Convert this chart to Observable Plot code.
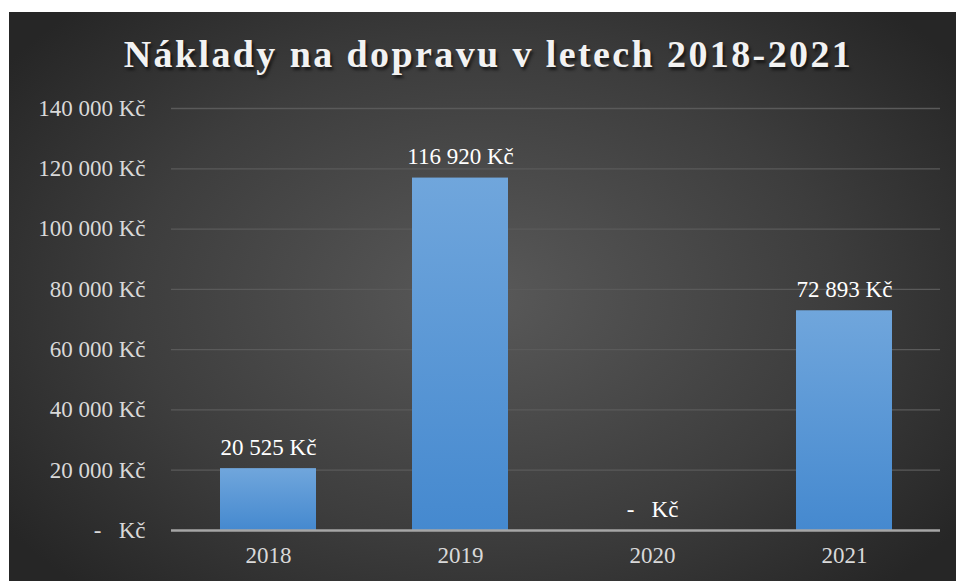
<!DOCTYPE html>
<html>
<head>
<meta charset="utf-8">
<script src="https://cdn.jsdelivr.net/npm/d3@7"></script>
<script src="https://cdn.jsdelivr.net/npm/@observablehq/plot@0.6"></script>
<style>
  html, body { margin: 0; padding: 0; background: #ffffff; }
  #frame {
    position: absolute; left: 9px; top: 12px; width: 947px; height: 569px;
    background: radial-gradient(ellipse 62% 70% at 50% 50%, #595959 0%, #3d3d3d 60%, #262626 100%);
    overflow: hidden;
  }
  #title {
    position: absolute; left: 6px; top: 3px; width: 947px; height: 78px;
    text-align: center; font-family: "Liberation Serif", "Times New Roman", serif;
    font-weight: bold; font-size: 38px; letter-spacing: 2.4px; color: #f2f2f2;
    line-height: 78px; text-shadow: 2px 3px 3px rgba(0,0,0,0.6);
  }
  #chart { position: absolute; left: 0; top: 78px; }
  #chart svg, #chart svg text { font-family: "Liberation Serif", "Times New Roman", serif !important; }
</style>
</head>
<body>
<div id="frame">
  <div id="title">Náklady na dopravu v letech 2018-2021</div>
  <div id="chart"></div>
</div>
<script>
const years = ["2018", "2019", "2020", "2021"];
const costs = [20525, 116920, 0, 72893];
const yTicks = [0, 20000, 40000, 60000, 80000, 100000, 120000, 140000];

const fmt = v => v === 0 ? "-\u00a0\u00a0\u00a0Kč" : d3.format(",")(v).replace(/,/g, "\u00a0") + "\u00a0Kč";
const data = years.map((y, i) => ({year: y, cost: costs[i]}));

const chart = Plot.plot({
  width: 947,
  height: 491,
  marginLeft: 162,
  marginRight: 16,
  marginTop: 18,
  marginBottom: 51,
  style: {background: "transparent", fontFamily: "Liberation Serif, serif", fontSize: "23px", color: "#d9d9d9"},
  x: {domain: years, paddingInner: 0.5, paddingOuter: 0.25, label: null},
  y: {domain: [0, 140000], label: null},
  marks: [
    Plot.ruleY(yTicks.filter(d => d > 0), {stroke: "#5a5a5a", strokeWidth: 1.3}),
    Plot.barY(data, {x: "year", y: "cost", fill: "url(#barGrad)", style: "filter: drop-shadow(2px 2px 3px rgba(0,0,0,0.55))"}),
    Plot.ruleY([0], {stroke: "#a6a6a6", strokeWidth: 2.5}),
    Plot.text(data, {x: "year", y: "cost", text: d => fmt(d.cost), lineAnchor: "bottom", dy: -14, fill: "#ffffff", fontSize: 23}),
    Plot.axisY({ticks: yTicks, tickFormat: fmt, tickSize: 0, tickPadding: 26, fontSize: 23, fill: "#d9d9d9"}),
    Plot.axisX({tickSize: 0, tickPadding: 16, fontSize: 23, fill: "#d9d9d9"})
  ]
});

const svg = d3.select(chart);
const defs = svg.insert("defs", ":first-child");
const g = defs.append("linearGradient").attr("id", "barGrad").attr("x1", 0).attr("y1", 0).attr("x2", 0).attr("y2", 1);
g.append("stop").attr("offset", "0%").attr("stop-color", "#70a6dc");
g.append("stop").attr("offset", "100%").attr("stop-color", "#4589cf");
svg.selectAll("text").attr("xml:space", "preserve").attr("font-family", "Liberation Serif, serif");
document.getElementById("chart").appendChild(chart);
</script>
</body>
</html>
